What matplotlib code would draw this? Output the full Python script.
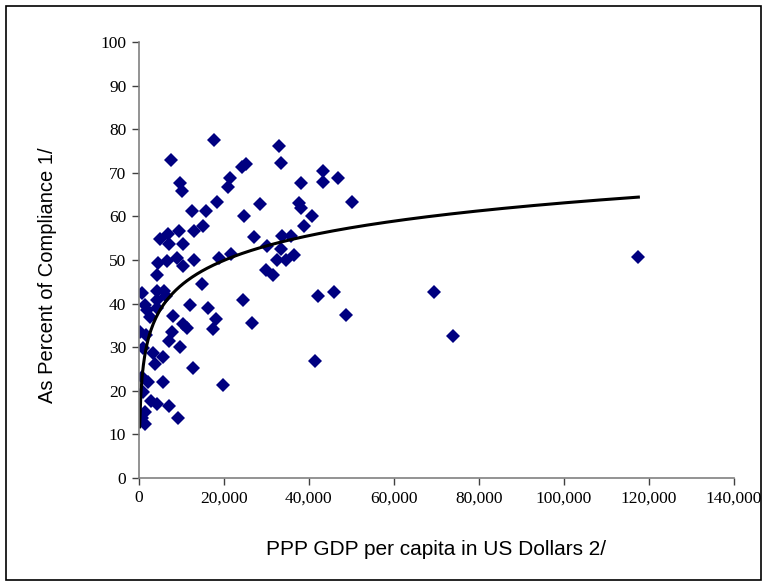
import matplotlib
matplotlib.use("Agg")
import matplotlib.pyplot as plt
import numpy as np
from matplotlib.ticker import FuncFormatter
from matplotlib.patches import Rectangle

# GDP per capita (PPP, US$) and compliance (%)
gdp = np.array([
    7530, 9650, 10120, 12470, 15760, 4940, 6820, 7060, 9410, 10350,
    12940, 15060, 17650, 32940, 33410, 25180, 24240, 21410, 20940, 18350,
    28470, 24710, 27060, 30120, 33650, 35770, 33410, 18820, 21650, 32470,
    34590, 36470, 29880, 31530, 43300, 43300, 46820, 38120, 37650, 38120,
    50120, 40710, 38820, 42120, 45880, 48710, 41410, 24470, 26590, 69410,
    73880, 117500,
    4470, 6590, 8940, 10350, 12940, 4240, 14820, 710, 4240, 5880,
    6350, 4240, 1410, 12000, 1880, 4240, 16240, 8000, 18120, 10350,
    11290, 17410, 190, 1650, 7760, 7060, 9650, 940, 2590, 3290,
    5650, 3760, 12710, 710, 2120, 5650, 19760, 940, 2820, 4240,
    7060, 1410, 9180, 710, 1410,
])
compliance = np.array([
    72.9, 67.7, 65.8, 61.2, 61.2, 54.8, 56.0, 53.7, 56.7, 53.7,
    56.7, 57.8, 77.5, 76.1, 72.2, 72.0, 71.3, 68.8, 66.7, 63.3,
    62.8, 60.1, 55.3, 53.2, 55.5, 55.5, 52.5, 50.5, 51.4, 50.0,
    50.0, 51.1, 47.7, 46.6, 70.4, 67.9, 68.8, 67.7, 63.1, 61.9,
    63.3, 60.1, 57.8, 41.7, 42.7, 37.4, 26.8, 40.8, 35.6, 42.7,
    32.6, 50.8,
    49.3, 49.8, 50.5, 48.6, 50.0, 46.6, 44.5, 42.4, 42.9, 42.9,
    41.7, 40.8, 39.7, 39.7, 38.5, 39.0, 39.0, 37.2, 36.5, 35.3,
    34.4, 34.2, 33.5, 32.8, 33.5, 31.4, 30.0, 29.8, 36.9, 28.7,
    27.8, 26.1, 25.2, 23.2, 22.0, 22.0, 21.3, 19.7, 17.7, 17.0,
    16.5, 15.1, 13.8, 13.8, 12.4,
])

# logarithmic trend line y = a*ln(x) + b, coefficients
trend_a = 8.2
trend_b = -31.3

x_ticks = np.arange(0, 140001, 20000)
y_ticks = np.arange(0, 101, 10)

fig = plt.figure(figsize=(7.67, 5.87), dpi=100)
ax = fig.add_axes([0.181, 0.1857, 0.776, 0.7427])

ax.plot(gdp, compliance, linestyle="none", marker="D", markersize=7,
        color="#000080", markeredgewidth=0)

xs = np.linspace(gdp.min(), gdp.max(), 400)
ax.plot(xs, trend_a * np.log(xs) + trend_b, color="black", linewidth=2.2)

ax.set_xlim(0, 140000)
ax.set_ylim(0, 100)
ax.set_xticks(x_ticks)
ax.set_yticks(y_ticks)
ax.xaxis.set_major_formatter(FuncFormatter(lambda v, p: f"{int(v):,}"))

for s in ("top", "right"):
    ax.spines[s].set_visible(False)
for s in ("left", "bottom"):
    ax.spines[s].set_color("#808080")
    ax.spines[s].set_linewidth(1.2)
ax.tick_params(direction="out", length=5, width=1, color="#404040",
               labelsize=12.5, pad=4)
for lab in ax.get_xticklabels() + ax.get_yticklabels():
    lab.set_family("Liberation Serif")

ax.set_xlabel("PPP GDP per capita in US Dollars 2/", family="Liberation Sans",
              fontsize=15, va="center")
ax.set_ylabel("As Percent of Compliance 1/", family="Liberation Sans",
              fontsize=14.5, va="center")
ax.xaxis.set_label_coords(0.5, -0.163)
ax.yaxis.set_label_coords(-0.153, 0.466)

fig.patches.append(Rectangle((0.008, 0.012), 0.984, 0.978, transform=fig.transFigure,
                             fill=False, edgecolor="black", linewidth=1.2))

fig.savefig("out.png", dpi=100)
